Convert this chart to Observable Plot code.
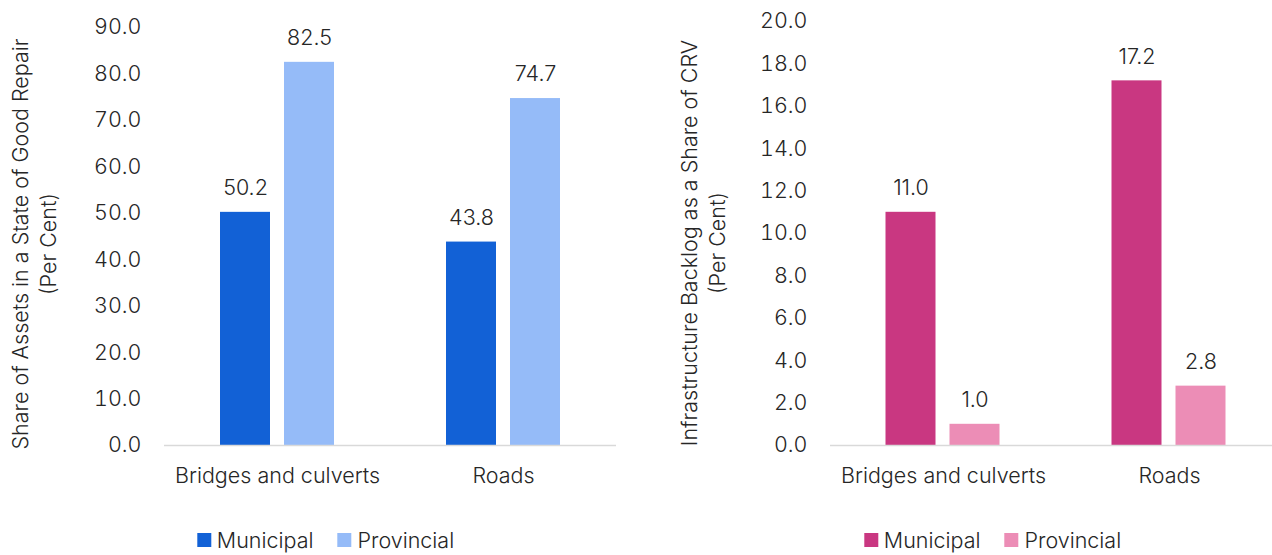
<!DOCTYPE html>
<html>
<head>
<meta charset="utf-8">
<script src="https://cdn.jsdelivr.net/npm/d3@7"></script>
<script src="https://cdn.jsdelivr.net/npm/@observablehq/plot@0.6"></script>
<style>
  html, body { margin: 0; padding: 0; background: #fff; overflow: hidden; }
  #wrap { position: relative; width: 1272px; height: 555px; overflow: hidden; font-family: Inter, sans-serif; font-weight: 300; color: #262626; }
  #left { position: absolute; left: 0; top: 0; width: 636px; }
  #right { position: absolute; left: 636px; top: 0; width: 646px; }
  #wrap svg { max-width: none !important; }
  .ytitle { position: absolute; transform: translate(-50%, -50%) rotate(-90deg); white-space: nowrap; text-align: center; font-size: 21.5px; line-height: 28px; }
  .legend { position: absolute; top: 526px; height: 28px; display: flex; align-items: center; font-size: 21.5px; transform: translateX(-50%); white-space: nowrap; }
  .sw { display: inline-block; width: 14px; height: 14px; margin-right: 6px; }
  .item { display: inline-flex; align-items: center; margin-right: 24px; }
  .item:last-child { margin-right: 0; }
</style>
</head>
<body>
<div id="wrap">
  <div id="left"></div>
  <div id="right"></div>
</div>
<script>
const categories = ["Bridges and culverts", "Roads"];
const series = ["Municipal", "Provincial"];
const goodRepairMunicipal = [50.2, 43.8];
const goodRepairProvincial = [82.5, 74.7];
const backlogMunicipal = [11.0, 17.2];
const backlogProvincial = [1.0, 2.8];
const leftTicks = [0, 10, 20, 30, 40, 50, 60, 70, 80, 90];
const rightTicks = [0, 2, 4, 6, 8, 10, 12, 14, 16, 18, 20];
const leftTitle = "Share of Assets in a State of Good Repair\n(Per Cent)";
const rightTitle = "Infrastructure Backlog as a Share of CRV\n(Per Cent)";
const leftColors = ["#1261D6", "#95BBF8"];
const rightColors = ["#C93781", "#EC8DB6"];

function rows(mun, prov) {
  const out = [];
  categories.forEach((c, i) => {
    out.push({category: c, series: series[0], value: mun[i]});
    out.push({category: c, series: series[1], value: prov[i]});
  });
  return out;
}

function chart({data, ticks, colors, width, marginLeft, marginRight, marginTop}) {
  const height = 510;
  return Plot.plot({
    width, height,
    marginLeft, marginRight, marginTop, marginBottom: 65,
    style: {fontFamily: "Inter, sans-serif", fontWeight: 300, fontSize: "21.5px", color: "#262626", background: "transparent", overflow: "visible"},
    fx: {domain: categories, padding: 0, axis: "bottom", label: null, tickSize: 0, tickPadding: 22},
    x: {domain: series, paddingInner: 0.215, paddingOuter: 0.85, axis: null},
    y: {domain: [ticks[0], ticks[ticks.length - 1]], ticks, tickFormat: d => d.toFixed(1), tickSize: 0, tickPadding: 23, label: null},
    color: {domain: series, range: colors},
    marks: [
      Plot.barY(data, {fx: "category", x: "series", y: "value", fill: "series"}),
      Plot.ruleY([0], {stroke: "#D9D9D9", strokeWidth: 1.5}),
      Plot.text(data, {fx: "category", x: "series", y: "value", text: d => d.value.toFixed(1), dy: -24, fill: "#262626"})
    ]
  });
}

document.getElementById("left").appendChild(chart({
  data: rows(goodRepairMunicipal, goodRepairProvincial), ticks: leftTicks, colors: leftColors,
  width: 636, marginLeft: 163, marginRight: 20, marginTop: 27
}));
document.getElementById("right").appendChild(chart({
  data: rows(backlogMunicipal, backlogProvincial), ticks: rightTicks, colors: rightColors,
  width: 646, marginLeft: 193.5, marginRight: 0, marginTop: 21
}));

const wrap = document.getElementById("wrap");
function title(text, cx, cy) {
  const d = document.createElement("div");
  d.className = "ytitle";
  d.style.left = cx + "px";
  d.style.top = cy + "px";
  text.split("\n").forEach((t, i) => {
    if (i) d.appendChild(document.createElement("br"));
    d.appendChild(document.createTextNode(t));
  });
  wrap.appendChild(d);
}
title(leftTitle, 34, 244);
title(rightTitle, 703, 243);

function legend(colors, cx) {
  const d = document.createElement("div");
  d.className = "legend";
  d.style.left = cx + "px";
  series.forEach((s, i) => {
    const it = document.createElement("span");
    it.className = "item";
    const sw = document.createElement("span");
    sw.className = "sw";
    sw.style.background = colors[i];
    it.appendChild(sw);
    it.appendChild(document.createTextNode(s));
    d.appendChild(it);
  });
  wrap.appendChild(d);
}
legend(leftColors, 325.5);
legend(rightColors, 992.5);
</script>
</body>
</html>
